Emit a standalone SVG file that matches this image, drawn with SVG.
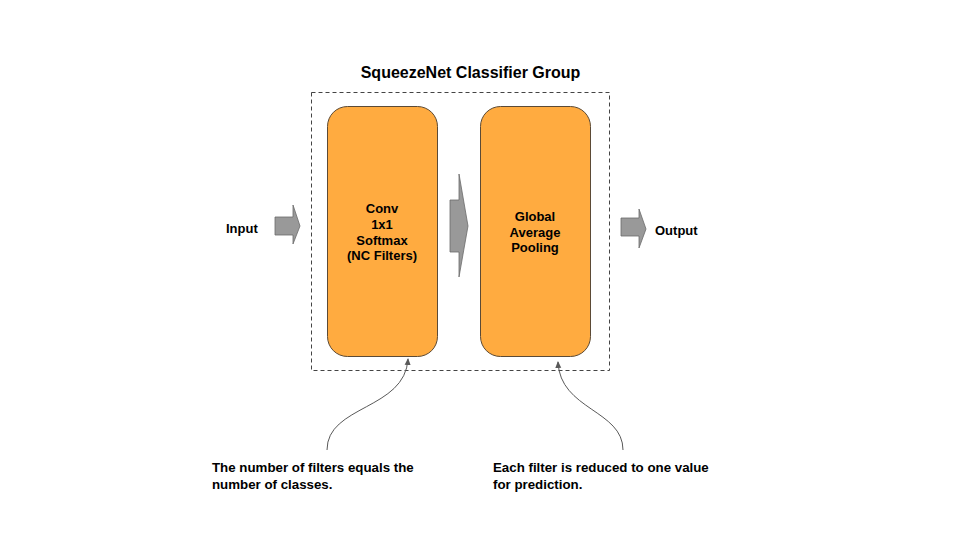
<svg xmlns="http://www.w3.org/2000/svg" width="960" height="540" viewBox="0 0 960 540">
<defs>
<style>
text{font-family:"Liberation Sans",Arial,sans-serif;font-weight:bold;fill:#000}
.lbl{font-size:13px}
.note{font-size:13.3px}
.node{fill:#FFAB40;stroke:#5b4a36;stroke-width:1}
.arr{fill:#999999;stroke:#6b6b6b;stroke-width:0.8}
.curve{fill:none;stroke:#595959;stroke-width:1}
</style>
<marker id="ah" markerWidth="8" markerHeight="8" refX="6" refY="4" orient="auto" markerUnits="userSpaceOnUse">
<path d="M0,1 L7,4 L0,7 z" fill="#595959"/>
</marker>
</defs>
<rect width="960" height="540" fill="#fff"/>
<text x="470.5" y="78" text-anchor="middle" style="font-size:16px">SqueezeNet Classifier Group</text>
<rect x="311.5" y="92.5" width="298" height="278" fill="none" stroke="#444" stroke-width="1" stroke-dasharray="4,3"/>
<g id="input">
<text class="lbl" x="226" y="233">Input</text>
<path class="arr" d="M275,217 H293 V205 L300,226 L293,244 V235 H275 Z"/>
</g>
<g id="conv">
<rect class="node" x="327.5" y="106.5" width="110" height="250" rx="20"/>
<text class="lbl" text-anchor="middle" x="382" y="213">Conv</text>
<text class="lbl" text-anchor="middle" x="382" y="229">1x1</text>
<text class="lbl" text-anchor="middle" x="382" y="245">Softmax</text>
<text class="lbl" text-anchor="middle" x="382" y="260">(NC Filters)</text>
</g>
<g id="mid-arrow">
<path class="arr" d="M450,200 H459 V174 L468,226 L459,277 V252 H450 Z"/>
</g>
<g id="gap">
<rect class="node" x="480.5" y="106.5" width="110" height="250" rx="20"/>
<text class="lbl" text-anchor="middle" x="535" y="221">Global</text>
<text class="lbl" text-anchor="middle" x="535" y="237">Average</text>
<text class="lbl" text-anchor="middle" x="535" y="252">Pooling</text>
</g>
<g id="output">
<path class="arr" d="M621,218 H639 V209 L646,229 L639,248 V236 H621 Z"/>
<text class="lbl" x="655" y="235">Output</text>
</g>
<g id="connectors">
<path class="curve" d="M327,450 C327,405 405,410 408,359" marker-end="url(#ah)"/>
<path class="curve" d="M623,450 C623,410 560,410 558,362" marker-end="url(#ah)"/>
</g>
<g id="note1">
<text class="note" x="212" y="472">The number of filters equals the</text>
<text class="note" x="212" y="489">number of classes.</text>
</g>
<g id="note2">
<text class="note" x="493" y="472">Each filter is reduced to one value</text>
<text class="note" x="493" y="489">for prediction.</text>
</g>
</svg>
